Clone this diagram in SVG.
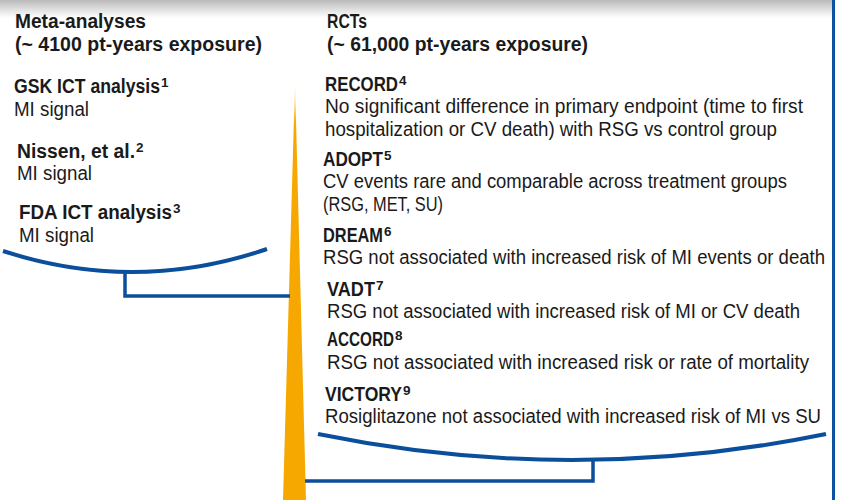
<svg xmlns="http://www.w3.org/2000/svg" width="850" height="500" viewBox="0 0 850 500">
  <defs>
    <linearGradient id="topShade" x1="0" y1="0" x2="0" y2="1">
      <stop offset="0" stop-color="#b9b9b9"/>
      <stop offset="0.5" stop-color="#dedede"/>
      <stop offset="1" stop-color="#ffffff"/>
    </linearGradient>
    <linearGradient id="fulcrumFill" x1="0" y1="82" x2="0" y2="500" gradientUnits="userSpaceOnUse">
      <stop offset="0" stop-color="#f6a800" stop-opacity="0"/>
      <stop offset="0.1" stop-color="#f6a800" stop-opacity="1"/>
      <stop offset="1" stop-color="#f6a800"/>
    </linearGradient>
    <style>
      text { font-family: "Liberation Sans", Arial, sans-serif; font-size: 20px; fill: #1a1a1a; }
      .h { font-weight: bold; }
      .sup { font-size: 13.5px; font-weight: bold; }
      .pan { fill: none; stroke: #0b4f9c; stroke-width: 4; stroke-linecap: butt; }
      .link { fill: none; stroke: #0b4f9c; stroke-width: 3.5; }
    </style>
  </defs>

  <rect x="0" y="0" width="850" height="500" fill="#ffffff"/>
  <!-- shaded header strip -->
  <rect x="0" y="0" width="833" height="18" fill="url(#topShade)"/>
  <!-- right frame rule -->
  <line x1="833.5" y1="0" x2="833.5" y2="500" stroke="#0b52a0" stroke-width="3"/>

  <!-- fulcrum -->
  <g id="fulcrum">
    <polygon points="295,82 306,500 283,500" fill="url(#fulcrumFill)"/>
  </g>

  <!-- balance pans and links -->
  <g id="connectors">
    <path class="pan" d="M 3 251 Q 135 294 267 249"/>
    <polyline class="link" points="125,272 125,296 290,296"/>
    <path class="pan" d="M 318 434 Q 572 486 826 434"/>
    <polyline class="link" points="593,459 593,481 305,481"/>
  </g>

  <g id="meta-header">
    <text class="h" x="15" y="28" textLength="131" lengthAdjust="spacingAndGlyphs">Meta-analyses</text>
    <text class="h" x="15" y="51" textLength="247" lengthAdjust="spacingAndGlyphs">(~ 4100 pt-years exposure)</text>
  </g>
  <g id="rct-header">
    <text class="h" x="327" y="28" textLength="40" lengthAdjust="spacingAndGlyphs">RCTs</text>
    <text class="h" x="327" y="51" textLength="261" lengthAdjust="spacingAndGlyphs">(~ 61,000 pt-years exposure)</text>
  </g>

  <g id="gsk">
    <text x="14" y="93"><tspan class="h" textLength="146" lengthAdjust="spacingAndGlyphs">GSK ICT analysis</tspan><tspan class="sup" dx="1" dy="-6">1</tspan></text>
    <text x="14" y="116" textLength="75" lengthAdjust="spacingAndGlyphs">MI signal</text>
  </g>
  <g id="nissen">
    <text x="17" y="158"><tspan class="h" textLength="118" lengthAdjust="spacingAndGlyphs">Nissen, et al.</tspan><tspan class="sup" dx="1" dy="-6">2</tspan></text>
    <text x="17" y="180" textLength="75" lengthAdjust="spacingAndGlyphs">MI signal</text>
  </g>
  <g id="fda">
    <text x="19" y="219"><tspan class="h" textLength="153" lengthAdjust="spacingAndGlyphs">FDA ICT  analysis</tspan><tspan class="sup" dx="1" dy="-6">3</tspan></text>
    <text x="19" y="242" textLength="75" lengthAdjust="spacingAndGlyphs">MI signal</text>
  </g>

  <g id="record">
    <text x="325" y="91"><tspan class="h" textLength="73" lengthAdjust="spacingAndGlyphs">RECORD</tspan><tspan class="sup" dx="1" dy="-6">4</tspan></text>
    <text x="325" y="113" textLength="478" lengthAdjust="spacingAndGlyphs">No significant difference in primary endpoint (time to first</text>
    <text x="325" y="136" textLength="452" lengthAdjust="spacingAndGlyphs">hospitalization or CV death) with RSG vs control group</text>
  </g>
  <g id="adopt">
    <text x="323" y="166"><tspan class="h" textLength="60" lengthAdjust="spacingAndGlyphs">ADOPT</tspan><tspan class="sup" dx="1" dy="-6">5</tspan></text>
    <text x="323" y="188" textLength="464" lengthAdjust="spacingAndGlyphs">CV events rare and comparable across treatment groups</text>
    <text x="323" y="211" textLength="120" lengthAdjust="spacingAndGlyphs">(RSG, MET, SU)</text>
  </g>
  <g id="dream">
    <text x="323" y="242"><tspan class="h" textLength="60" lengthAdjust="spacingAndGlyphs">DREAM</tspan><tspan class="sup" dx="1" dy="-6">6</tspan></text>
    <text x="323" y="264" textLength="502" lengthAdjust="spacingAndGlyphs">RSG not associated with increased risk of MI events or death</text>
  </g>
  <g id="vadt">
    <text x="327" y="296"><tspan class="h" textLength="48" lengthAdjust="spacingAndGlyphs">VADT</tspan><tspan class="sup" dx="1" dy="-6">7</tspan></text>
    <text x="327" y="318" textLength="473" lengthAdjust="spacingAndGlyphs">RSG not associated with increased risk of MI or CV death</text>
  </g>
  <g id="accord">
    <text x="327" y="346"><tspan class="h" textLength="67" lengthAdjust="spacingAndGlyphs">ACCORD</tspan><tspan class="sup" dx="1" dy="-6">8</tspan></text>
    <text x="327" y="369" textLength="482" lengthAdjust="spacingAndGlyphs">RSG not associated with increased risk or rate of mortality</text>
  </g>
  <g id="victory">
    <text x="325" y="401"><tspan class="h" textLength="77" lengthAdjust="spacingAndGlyphs">VICTORY</tspan><tspan class="sup" dx="1" dy="-6">9</tspan></text>
    <text x="325" y="423" textLength="496" lengthAdjust="spacingAndGlyphs">Rosiglitazone not associated with increased risk of MI vs SU</text>
  </g>
</svg>
